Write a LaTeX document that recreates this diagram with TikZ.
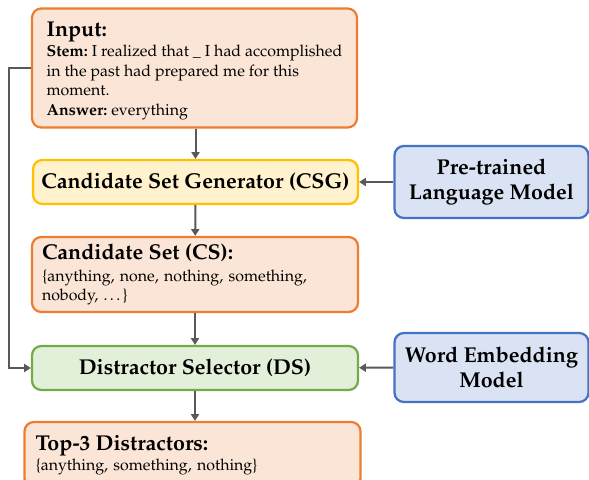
\documentclass[tikz,border=0pt]{standalone}
\usepackage[T1]{fontenc}
\usepackage{mathpazo}
\usetikzlibrary{arrows.meta}
\definecolor{orline}{HTML}{ED7D31}
\definecolor{orfill}{HTML}{FBE5D6}
\definecolor{yeline}{HTML}{FFC000}
\definecolor{yefill}{HTML}{FFF2CC}
\definecolor{blline}{HTML}{4472C4}
\definecolor{blfill}{HTML}{DAE3F3}
\definecolor{grline}{HTML}{70AD47}
\definecolor{grfill}{HTML}{E2F0D9}
\definecolor{arrgray}{HTML}{595959}
\newcommand{\hd}{\fontsize{16.1}{19}\selectfont\bfseries}
\newcommand{\bd}{\fontsize{11.95}{14.6}\selectfont}
\frenchspacing
\begin{document}
\begin{tikzpicture}[x=0.75pt,y=-0.75pt,
  box/.style={draw,rounded corners=7pt,line width=1.7pt,align=center,font=\hd,inner sep=0pt},
  orbox/.style={box,draw=orline,fill=orfill,align=left,font=\bd},
  yebox/.style={box,draw=yeline,fill=yefill},
  blbox/.style={box,draw=blline,fill=blfill,minimum width=145.5pt},
  grbox/.style={box,draw=grline,fill=grfill},
  arr/.style={draw=arrgray,line width=1.5pt,-{Triangle[length=5pt,width=6pt]}}]
\useasboundingbox (0,0) rectangle (589,479);
\node (inp) at (194.5,68)[orbox,minimum width=243.75pt,minimum height=89.25pt]
  {\rule{0pt}{15.5pt}{\hd Input:}\\[0.5pt]
   \textbf{Stem:} I realized that \_ I had accomplished\\
   in the past had prepared me for this\\
   moment.\\
   \textbf{Answer:} everything};
\node (csg) at (195.5,182)[yebox,minimum width=243.75pt,minimum height=33pt]{Candidate Set Generator (CSG)};
\node (plm) at (491.5,182)[blbox,minimum height=54pt]{Pre-trained\\Language Model};
\node (cs) at (195,274.5)[orbox,text width=229.5pt,inner xsep=7.5pt,minimum height=56.25pt]
  {{\hd Candidate Set (CS):}\\[2pt]
   \{anything, none, nothing, something,\\
   nobody, \ldots\}};
\node (ds) at (195,368)[grbox,minimum width=244.5pt,minimum height=33pt]{Distractor Selector (DS)};
\node (wem) at (491.5,367.5)[blbox,minimum height=51.75pt]{Word Embedding\\Model};
\node (top) at (192.5,455)[orbox,text width=235.5pt,inner xsep=8.25pt,minimum height=49.5pt]
  {{\hd Top-3 Distractors:}\\[0.5pt]
   \{anything, something, nothing\}};
\draw[arr](inp.south-|csg)--(csg);
\draw[arr](csg)--(cs);
\draw[arr](cs)--(ds);
\draw[arr](ds)--(ds.south|-top.north);
\draw[arr](plm)--(csg);
\draw[arr](wem)--(ds);
\draw[arr](inp.west)--++(-22,0)|-(ds.west);
\end{tikzpicture}
\end{document}
